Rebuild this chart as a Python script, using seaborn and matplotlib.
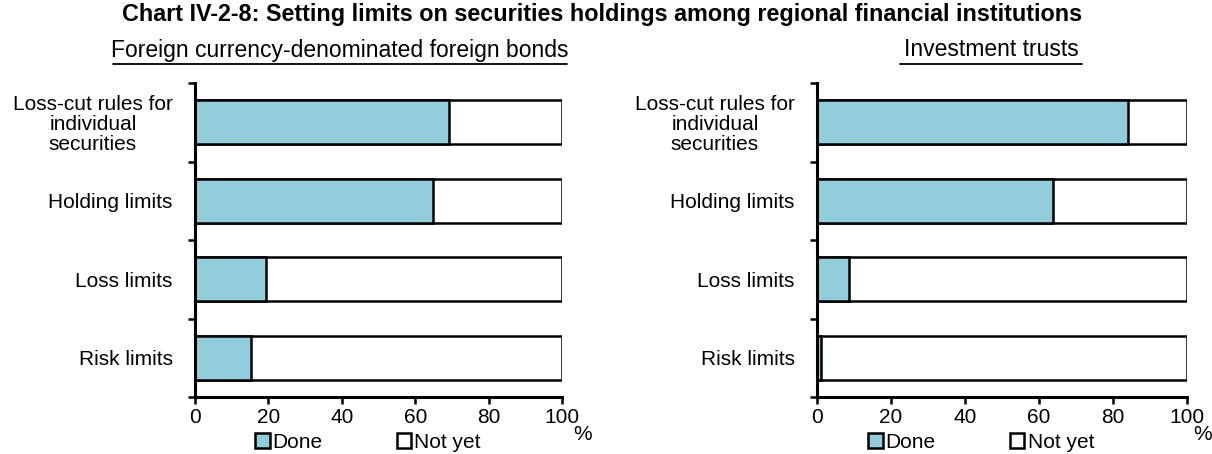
import pandas as pd
import matplotlib.pyplot as plt
import seaborn as sns
from matplotlib.patches import Patch

# Data
categories = ["Loss-cut rules for\nindividual\nsecurities", "Holding limits", "Loss limits", "Risk limits"]
bonds_done = [69.3, 64.8, 19.3, 15.2]
trusts_done = [84.0, 63.7, 8.6, 1.0]
total = [100, 100, 100, 100]
panel_titles = ["Foreign currency-denominated foreign bonds", "Investment trusts"]

blue = "#92CDDC"
fs = 15

sns.set_style("white")
plt.rcParams["font.family"] = ["Liberation Sans", "DejaVu Sans"]
plt.rcParams["font.size"] = fs
plt.rcParams["text.color"] = "black"
plt.rcParams["xtick.color"] = "black"
plt.rcParams["ytick.color"] = "black"

fig = plt.figure(figsize=(12.12, 4.54), dpi=100)
ax1 = fig.add_axes([195 / 1212, 1 - 397 / 454, 367 / 1212, 314 / 454])
ax2 = fig.add_axes([817 / 1212, 1 - 397 / 454, 370 / 1212, 314 / 454])

for ax, done in [(ax1, bonds_done), (ax2, trusts_done)]:
    df = pd.DataFrame({"cat": categories, "done": done, "total": total})
    sns.barplot(data=df, x="total", y="cat", orient="h", color="white", saturation=1,
                edgecolor="black", linewidth=1.8, width=0.56, ax=ax)
    sns.barplot(data=df, x="done", y="cat", orient="h", color=blue, saturation=1,
                edgecolor="black", linewidth=1.8, width=0.56, ax=ax)
    ax.set_xlim(0, 100)
    ax.set_ylim(3.5, -0.5)
    ax.set_xticks([0, 20, 40, 60, 80, 100])
    ax.set_yticks([0, 1, 2, 3])
    ax.set_yticks([-0.5, 0.5, 1.5, 2.5, 3.5], minor=True)
    ax.tick_params(axis="y", which="major", left=False, length=0, pad=16, labelsize=fs)
    ax.tick_params(axis="y", which="minor", left=True, length=5, width=1.8, direction="out")
    ax.tick_params(axis="x", bottom=True, length=5, width=1.8, direction="out", labelsize=fs, pad=3)
    for lbl in ax.get_yticklabels():
        lbl.set_multialignment("center")
        lbl.set_linespacing(1.05)
    ax.set_xlabel("")
    ax.set_ylabel("")
    for side in ["top", "right"]:
        ax.spines[side].set_visible(False)
    for side in ["left", "bottom"]:
        ax.spines[side].set_linewidth(2.2)
        ax.spines[side].set_color("black")

fig.text(602 / 1212, 1 - 15 / 454,
         "Chart IV-2-8: Setting limits on securities holdings among regional financial institutions",
         ha="center", va="center", fontsize=16.8, fontweight="bold")
fig.text(340 / 1212, 1 - 50 / 454, panel_titles[0], ha="center", va="center", fontsize=16.5)
fig.text(991 / 1212, 1 - 50 / 454, panel_titles[1], ha="center", va="center", fontsize=16.5)
# underlines for the panel titles
fig.add_artist(plt.Line2D([113 / 1212, 567 / 1212], [1 - 64 / 454] * 2, color="black", lw=1.3))
fig.add_artist(plt.Line2D([900 / 1212, 1082 / 1212], [1 - 64 / 454] * 2, color="black", lw=1.3))

fig.text(583 / 1212, 1 - 434 / 454, "%", ha="center", va="center", fontsize=fs)
fig.text(1203 / 1212, 1 - 434 / 454, "%", ha="center", va="center", fontsize=fs)

handles = [Patch(facecolor=blue, edgecolor="black", lw=1.8, label="Done"),
           Patch(facecolor="white", edgecolor="black", lw=1.8, label="Not yet")]
for cx in [368 / 1212, 981 / 1212]:
    fig.legend(handles=handles, loc="center", bbox_to_anchor=(cx, 1 - 442 / 454), ncol=2,
               frameon=False, handlelength=0.7, handleheight=0.7, handletextpad=0.15,
               columnspacing=3.55, fontsize=fs, borderpad=0)

fig.savefig("out.png", dpi=100)
